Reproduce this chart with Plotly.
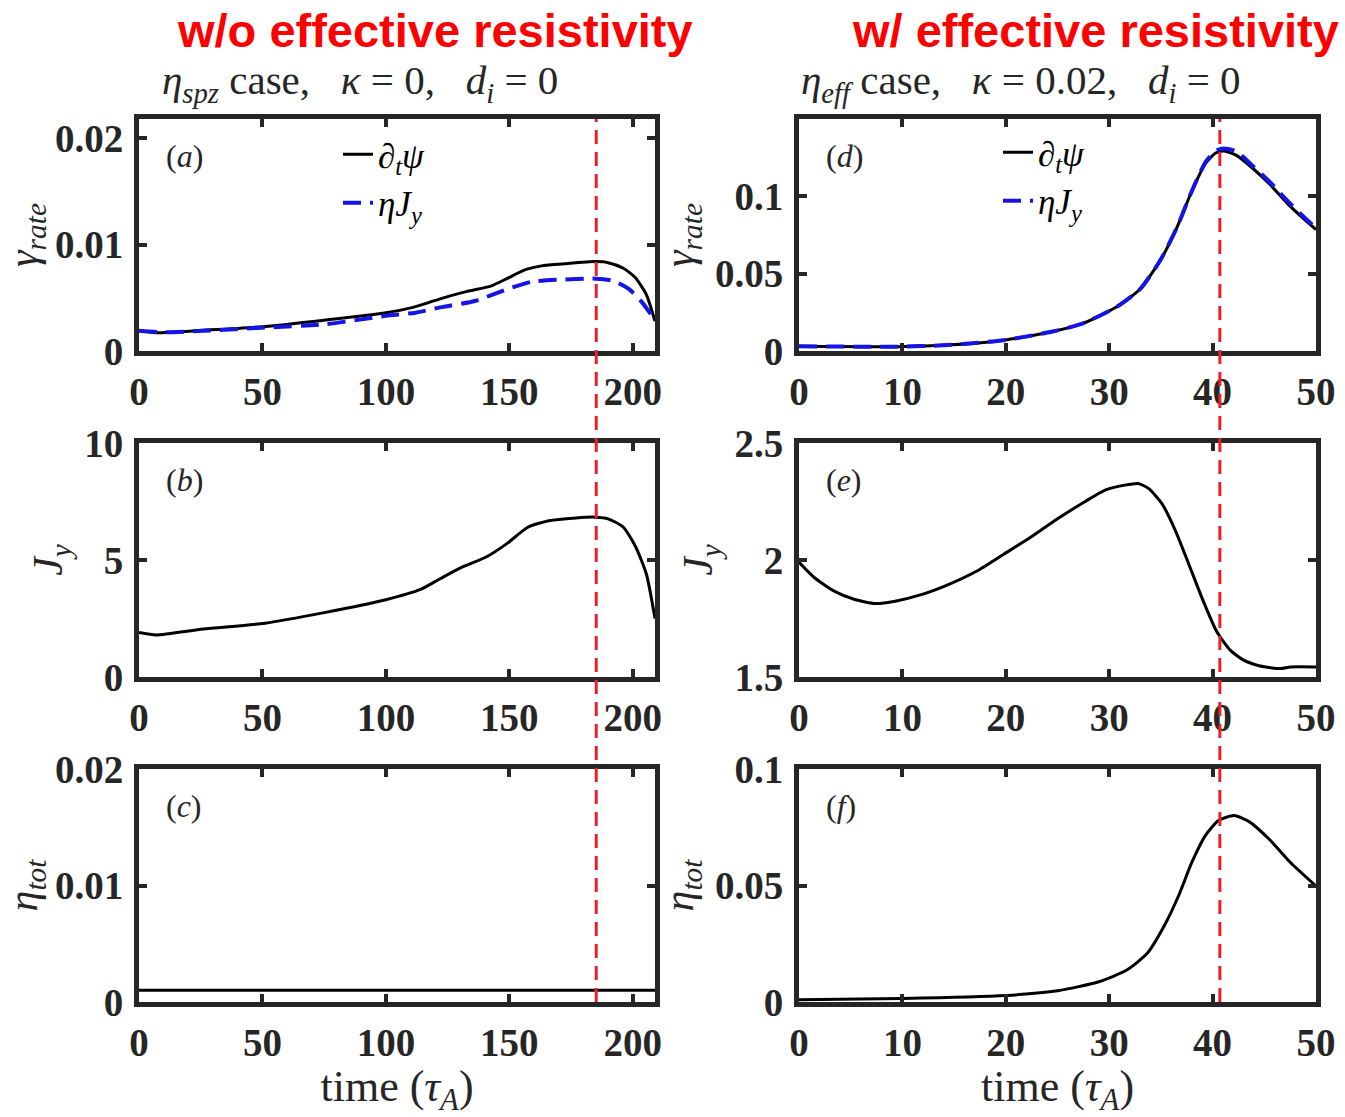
import plotly.graph_objects as go

# ---------------- data ----------------
# Left column: eta_spz case, kappa = 0, d_i = 0
t_a_psi = [0, 7, 26, 51, 75, 100, 111, 122, 133, 142.5, 149, 156, 163, 172.6, 185, 190, 196, 201, 205.5, 209]
rate_a_psi = [0.0019, 0.00172, 0.00195, 0.0023, 0.0029, 0.0036, 0.0041, 0.0049, 0.0056, 0.0061,
              0.0068, 0.0076, 0.0080, 0.0082, 0.0084, 0.0083, 0.0078, 0.0069, 0.0053, 0.0028]
t_a_eta = [0, 10, 26, 51, 75, 100, 112, 122, 136, 149, 159, 170, 185, 192, 198.6, 204, 209]
rate_a_eta = [0.0019, 0.00175, 0.0019, 0.0022, 0.0025, 0.0033, 0.0036, 0.0041, 0.0047, 0.0058,
              0.0065, 0.0067, 0.0068, 0.0066, 0.0058, 0.0045, 0.0029]

t_b = [0, 7, 26, 51, 75, 100, 114, 122, 130, 141, 149, 157.5, 166, 177, 185, 190, 196, 201, 205.5, 209]
jy_b = [1.9, 1.8, 2.05, 2.3, 2.75, 3.3, 3.74, 4.2, 4.65, 5.15, 5.7, 6.4, 6.68, 6.8, 6.83, 6.76, 6.42, 5.6, 4.4, 2.5]

t_c = [0, 209]
eta_c = [0.001, 0.001]

# Right column: eta_eff case, kappa = 0.02, d_i = 0
t_d_psi = [0, 9.4, 14.3, 19.8, 24.4, 27.4, 30.7, 33, 35, 36.6, 37.9, 39.3, 40.3, 41.1, 42.3, 43.9, 45.6, 47.2, 48.9, 50]
rate_d_psi = [0.003, 0.0028, 0.0038, 0.007, 0.0124, 0.0177, 0.0284, 0.0401, 0.0593, 0.0806,
              0.102, 0.1212, 0.128, 0.1293, 0.1265, 0.118, 0.1073, 0.0956, 0.0849, 0.0785]
t_d_eta = [0, 9.4, 14.3, 19.8, 24.4, 27.4, 30.7, 33, 35, 36.6, 37.9, 39.3, 40.3, 41.1, 42.3, 43.9, 45.6, 47.2, 48.9, 50]
rate_d_eta = [0.003, 0.0028, 0.0038, 0.007, 0.0124, 0.0177, 0.0284, 0.0401, 0.0593, 0.0806,
              0.102, 0.122, 0.1295, 0.131, 0.129, 0.1195, 0.1088, 0.0973, 0.0862, 0.0796]

t_e = [0, 1.5, 3.4, 5.4, 7.4, 9.3, 11.9, 14.5, 17.2, 19.8, 22.4, 25, 27.6, 29.6, 31.5, 32.8, 33.8,
       35.1, 36.4, 37.7, 39.1, 40.4, 41.7, 43, 44.6, 46.6, 47.5, 50]
jy_e = [1.99, 1.924, 1.867, 1.831, 1.814, 1.824, 1.853, 1.896, 1.953, 2.025, 2.097, 2.176, 2.248,
        2.299, 2.32, 2.327, 2.306, 2.241, 2.126, 1.982, 1.824, 1.694, 1.615, 1.572, 1.547, 1.536,
        1.543, 1.543]

t_f = [0, 10, 20, 25, 29, 31.7, 33.7, 35.3, 36.7, 38, 39.3, 40.6, 42.1, 43.6, 45.6, 47.5, 50]
eta_f = [0.001, 0.0015, 0.0028, 0.0048, 0.0087, 0.0137, 0.021, 0.0325, 0.0455, 0.06, 0.0714,
         0.078, 0.080, 0.0772, 0.0693, 0.060, 0.0498]

# reconnection-peak markers (time)
t_mark_left = 185.2
t_mark_right = 40.7

# axes ranges / ticks
x_range_left = [0, 209]
x_ticks_left = [0, 50, 100, 150, 200]
x_range_right = [0, 50]
x_ticks_right = [0, 10, 20, 30, 40, 50]

y_range_a = [0, 0.0218]
y_ticks_a = [0, 0.01, 0.02]
y_text_a = ["0", "0.01", "0.02"]
y_range_b = [0, 10]
y_ticks_b = [0, 5, 10]
y_text_b = ["0", "5", "10"]
y_range_c = [0, 0.02]
y_ticks_c = [0, 0.01, 0.02]
y_text_c = ["0", "0.01", "0.02"]
y_range_d = [0, 0.15]
y_ticks_d = [0, 0.05, 0.1]
y_text_d = ["0", "0.05", "0.1"]
y_range_e = [1.5, 2.5]
y_ticks_e = [1.5, 2, 2.5]
y_text_e = ["1.5", "2", "2.5"]
y_range_f = [0, 0.1]
y_ticks_f = [0, 0.05, 0.1]
y_text_f = ["0", "0.05", "0.1"]

# ---------------- styling ----------------
W, H = 1345, 1117
AX = "#262626"
SERIF = "Liberation Serif"
col_left = [139 / W, 655 / W]
col_right = [799 / W, 1316 / W]
row1 = [1 - 351 / H, 1 - 119 / H]
row2 = [1 - 677 / H, 1 - 443 / H]
row3 = [1 - 1002 / H, 1 - 769 / H]

tickfont = dict(family=SERIF, size=39, color=AX, weight="bold")
titlefont = dict(family=SERIF, size=42, color=AX)

fig = go.Figure()

BLACK = dict(color="black", width=3, shape="spline", smoothing=0.6)
BLUE = dict(color="#1414e6", width=4, dash="18px,9px", shape="spline", smoothing=0.6)

fig.add_trace(go.Scatter(x=t_a_psi, y=rate_a_psi, mode="lines", line=BLACK, xaxis="x", yaxis="y",
                         name="<i>∂<sub>t</sub>ψ</i>", legend="legend", legendgroup="a1"))
fig.add_trace(go.Scatter(x=t_a_eta, y=rate_a_eta, mode="lines", line=BLUE, xaxis="x", yaxis="y",
                         name="<i>ηJ<sub>y</sub></i>", legend="legend", legendgroup="a2"))
fig.add_trace(go.Scatter(x=t_b, y=jy_b, mode="lines", line=BLACK, xaxis="x2", yaxis="y2", showlegend=False))
fig.add_trace(go.Scatter(x=t_c, y=eta_c, mode="lines", line=dict(color="black", width=3), xaxis="x3", yaxis="y3", showlegend=False))

fig.add_trace(go.Scatter(x=t_d_psi, y=rate_d_psi, mode="lines", line=BLACK, xaxis="x4", yaxis="y4",
                         name="<i>∂<sub>t</sub>ψ</i>", legend="legend2", legendgroup="d1"))
fig.add_trace(go.Scatter(x=t_d_eta, y=rate_d_eta, mode="lines", line=BLUE, xaxis="x4", yaxis="y4",
                         name="<i>ηJ<sub>y</sub></i>", legend="legend2", legendgroup="d2"))
fig.add_trace(go.Scatter(x=t_e, y=jy_e, mode="lines", line=BLACK, xaxis="x5", yaxis="y5", showlegend=False))
fig.add_trace(go.Scatter(x=t_f, y=eta_f, mode="lines", line=BLACK, xaxis="x6", yaxis="y6", showlegend=False))


def xax(dom_x, anchor, rng, ticks, title=None):
    d = dict(domain=dom_x, anchor=anchor, range=rng, tickvals=ticks, ticktext=[str(v) for v in ticks],
             showline=True, linewidth=5, linecolor=AX, mirror="ticks", ticks="inside", ticklen=8,
             tickwidth=4, tickcolor=AX, showgrid=False, zeroline=False, tickfont=tickfont,
             ticklabelstandoff=2, automargin=False, fixedrange=True)
    if title:
        d["title"] = dict(text=title, font=dict(family=SERIF, size=44, color=AX), standoff=6)
    return d


def yax(dom_y, anchor, rng, ticks, text, title):
    return dict(domain=dom_y, anchor=anchor, range=rng, tickvals=ticks, ticktext=text,
                showline=True, linewidth=5, linecolor=AX, mirror="ticks", ticks="inside", ticklen=8,
                tickwidth=4, tickcolor=AX, showgrid=False, zeroline=False, tickfont=tickfont,
                ticklabelstandoff=3, automargin=False, fixedrange=True,
                title=dict(text=title, font=titlefont, standoff=10))


time_title = "time (<i>τ<sub>A</sub></i>)"
legend_font = dict(family=SERIF, size=35, color="black")
fig.update_layout(
    width=W, height=H, margin=dict(l=0, r=0, t=0, b=0), autosize=False,
    paper_bgcolor="white", plot_bgcolor="white",
    xaxis=xax(col_left, "y", x_range_left, x_ticks_left),
    yaxis=yax(row1, "x", y_range_a, y_ticks_a, y_text_a, "<i>γ<sub>rate</sub></i>"),
    xaxis2=xax(col_left, "y2", x_range_left, x_ticks_left),
    yaxis2=yax(row2, "x2", y_range_b, y_ticks_b, y_text_b, "<i>J<sub>y</sub></i>"),
    xaxis3=xax(col_left, "y3", x_range_left, x_ticks_left, time_title),
    yaxis3=yax(row3, "x3", y_range_c, y_ticks_c, y_text_c, "<i>η<sub>tot</sub></i>"),
    xaxis4=xax(col_right, "y4", x_range_right, x_ticks_right),
    yaxis4=yax(row1, "x4", y_range_d, y_ticks_d, y_text_d, "<i>γ<sub>rate</sub></i>"),
    xaxis5=xax(col_right, "y5", x_range_right, x_ticks_right),
    yaxis5=yax(row2, "x5", y_range_e, y_ticks_e, y_text_e, "<i>J<sub>y</sub></i>"),
    xaxis6=xax(col_right, "y6", x_range_right, x_ticks_right, time_title),
    yaxis6=yax(row3, "x6", y_range_f, y_ticks_f, y_text_f, "<i>η<sub>tot</sub></i>"),
    legend=dict(x=338 / W, y=1 - 125 / H, xanchor="left", yanchor="top", bgcolor="rgba(0,0,0,0)",
                font=legend_font, traceorder="grouped", tracegroupgap=0, itemwidth=30),
    legend2=dict(x=998 / W, y=1 - 123 / H, xanchor="left", yanchor="top", bgcolor="rgba(0,0,0,0)",
                 font=legend_font, traceorder="grouped", tracegroupgap=0, itemwidth=30),
)

# dashed vertical markers spanning all three rows of each column
for xref, tm in (("x", t_mark_left), ("x4", t_mark_right)):
    fig.add_shape(type="line", xref=xref, yref="paper", x0=tm, x1=tm, y0=row3[0], y1=row1[1],
                  line=dict(color="#e8222a", width=3, dash="14px,8px"), layer="above")

# panel letters
panel_letters = [("a", "x", "y"), ("b", "x2", "y2"), ("c", "x3", "y3"),
                 ("d", "x4", "y4"), ("e", "x5", "y5"), ("f", "x6", "y6")]
for letter, xa, ya in panel_letters:
    fig.add_annotation(text="(<i>" + letter + "</i>)", x=0.048, y=0.84, xref=xa + " domain", yref=ya + " domain",
                       xanchor="left", yanchor="middle", showarrow=False,
                       font=dict(family=SERIF, size=32, color=AX))

# headers
head_font = dict(family="Liberation Sans", size=47, color="#ff0000", weight="bold")
fig.add_annotation(text="w/o effective resistivity", x=435 / W, y=1 - 30 / H, xref="paper", yref="paper",
                   xanchor="center", yanchor="middle", showarrow=False, font=head_font)
fig.add_annotation(text="w/ effective resistivity", x=1095 / W, y=1 - 30 / H, xref="paper", yref="paper",
                   xanchor="center", yanchor="middle", showarrow=False, font=head_font)
sp = "\u00a0\u00a0\u00a0"
eq = "\u00a0=\u00a0"
sub_font = dict(family=SERIF, size=41, color=AX)
fig.add_annotation(text=f"<i>η<sub>spz</sub></i> case,{sp}<i>κ</i>{eq}0,{sp}<i>d<sub>i</sub></i>{eq}0",
                   x=360 / W, y=1 - 83 / H, xref="paper", yref="paper", showarrow=False,
                   xanchor="center", yanchor="middle", font=sub_font)
fig.add_annotation(text=f"<i>η<sub>eff</sub></i> case,{sp}<i>κ</i>{eq}0.02,{sp}<i>d<sub>i</sub></i>{eq}0",
                   x=1021 / W, y=1 - 83 / H, xref="paper", yref="paper", showarrow=False,
                   xanchor="center", yanchor="middle", font=sub_font)

fig.write_html("out.html")
